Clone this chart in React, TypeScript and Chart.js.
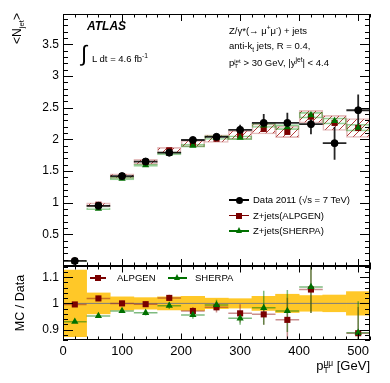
import React, { useEffect, useRef } from "react";
import { Chart, registerables } from "chart.js";
Chart.register(...registerables);

// ---------------- data ----------------
const binCenters = [20, 60, 100, 140, 180, 220, 260, 300, 340, 380, 420, 460, 500];
const binHalfWidth = 20;

const dataNjet = [0.08, 0.95, 1.42, 1.65, 1.79, 1.99, 2.04, 2.15, 2.26, 2.26, 2.24, 1.94, 2.46];
const dataErr = [0.01, 0.02, 0.025, 0.03, 0.035, 0.04, 0.05, 0.08, 0.14, 0.16, 0.16, 0.26, 0.25];

const alpgenNjet = [0.08, 0.968, 1.42, 1.645, 1.828, 1.932, 2.01, 2.068, 2.165, 2.118, 2.359, 2.26, 2.18];
const alpgenSyst = [0.005, 0.03, 0.035, 0.04, 0.045, 0.05, 0.06, 0.07, 0.08, 0.09, 0.1, 0.12, 0.15];

const sherpaNjet = [0.074, 0.904, 1.379, 1.591, 1.774, 1.902, 2.028, 2.027, 2.222, 2.194, 2.381, 2.29, 2.184];
const sherpaSyst = [0.004, 0.015, 0.02, 0.02, 0.02, 0.025, 0.03, 0.03, 0.035, 0.04, 0.045, 0.05, 0.055];

const ratioAlpgen = [0.996, 1.019, 1.0, 0.997, 1.021, 0.971, 0.985, 0.962, 0.958, 0.937, 1.053, null, 0.886];
const ratioAlpgenErr = [0.005, 0.01, 0.01, 0.01, 0.012, 0.015, 0.02, 0.035, 0.04, 0.085, 0.09, null, 0.1];
const ratioSherpa = [0.93, 0.952, 0.971, 0.964, 0.991, 0.956, 0.994, 0.943, 0.983, 0.971, 1.063, null, 0.888];
const ratioSherpaErr = [0.005, 0.008, 0.008, 0.01, 0.012, 0.015, 0.02, 0.025, 0.065, 0.08, 0.1, null, 0.12];
const dataBand = [0.127, 0.04, 0.025, 0.022, 0.025, 0.027, 0.02, 0.018, 0.027, 0.035, 0.03, 0.032, 0.045];

const topYTicks = [0.5, 1, 1.5, 2, 2.5, 3, 3.5];
const ratioYTicks = [0.9, 1, 1.1];
const xTicks = [0, 100, 200, 300, 400, 500];

// --------------- styling ---------------
const FONT = "'Liberation Sans', Arial, Helvetica, sans-serif";
const RED = "#7a0000";
const GREEN = "#007000";
const YELLOW = "rgb(255,200,40)";

function errorBarPoints(xs: number[], ys: (number | null)[], errs: (number | null)[], half: number, withH = true) {
  const pts: any[] = [];
  xs.forEach((x, i) => {
    const y = ys[i];
    const e = errs[i];
    if (y == null || e == null) return;
    pts.push({ x, y: y - e }, { x, y: y + e }, { x, y: null });
    if (withH) pts.push({ x: x - half, y }, { x: x + half, y }, { x, y: null });
  });
  return pts;
}

function makeHatch() {
  const c = document.createElement("canvas");
  const s = 7;
  c.width = s;
  c.height = s;
  const g = c.getContext("2d")!;
  g.strokeStyle = "rgba(170,40,40,0.9)";
  g.lineWidth = 1;
  g.beginPath();
  g.moveTo(0, s);
  g.lineTo(s, 0);
  g.moveTo(-1, 1);
  g.lineTo(1, -1);
  g.moveTo(s - 1, s + 1);
  g.lineTo(s + 1, s - 1);
  g.stroke();
  return g.createPattern(c, "repeat");
}

function framePlugin(cfg: {
  xMax: number; xMinor: number; xMajorEvery: number; xLen: [number, number];
  yMin: number; yMax: number; yMinor: number; yMajorEvery: number; yLen: [number, number];
}) {
  return {
    id: "frameTicks",
    afterDatasetsDraw(chart: any) {
      const { ctx, chartArea: a, scales } = chart;
      ctx.save();
      ctx.strokeStyle = "#000";
      ctx.lineWidth = 1;
      ctx.beginPath();
      for (let n = 0; n * cfg.xMinor <= cfg.xMax + 1e-9; n++) {
        const px = Math.round(scales.x.getPixelForValue(n * cfg.xMinor)) + 0.5;
        const len = n % cfg.xMajorEvery === 0 ? cfg.xLen[0] : cfg.xLen[1];
        ctx.moveTo(px, a.bottom);
        ctx.lineTo(px, a.bottom - len);
        ctx.moveTo(px, a.top);
        ctx.lineTo(px, a.top + len);
      }
      const k0 = Math.ceil(cfg.yMin / cfg.yMinor - 1e-9);
      const k1 = Math.floor(cfg.yMax / cfg.yMinor + 1e-9);
      for (let k = k0; k <= k1; k++) {
        const py = Math.round(scales.y.getPixelForValue(k * cfg.yMinor)) + 0.5;
        const len = k % cfg.yMajorEvery === 0 ? cfg.yLen[0] : cfg.yLen[1];
        ctx.moveTo(a.left, py);
        ctx.lineTo(a.left + len, py);
        ctx.moveTo(a.right, py);
        ctx.lineTo(a.right - len, py);
      }
      ctx.stroke();
      ctx.strokeRect(Math.round(a.left) + 0.5, Math.round(a.top) + 0.5, Math.round(a.width) - 1, Math.round(a.height) - 1);
      ctx.restore();
    },
  };
}

const txt = (style: React.CSSProperties): React.CSSProperties => ({
  position: "absolute",
  fontFamily: FONT,
  color: "#000",
  whiteSpace: "nowrap",
  lineHeight: 1,
  ...style,
});

function SubSup({ sub, sup }: { sub: string; sup: string }) {
  return (
    <span style={{ display: "inline-block", verticalAlign: "-0.4em", lineHeight: 0.9, fontSize: "0.65em", textAlign: "left" }}>
      <span style={{ display: "block" }}>{sup}</span>
      <span style={{ display: "block" }}>{sub}</span>
    </span>
  );
}

function Marker({ kind, color, cx, cy }: { kind: string; color: string; cx: number; cy: number }) {
  if (kind === "circle")
    return <div style={{ position: "absolute", left: cx - 3.5, top: cy - 3.5, width: 7, height: 7, borderRadius: "50%", background: color }} />;
  if (kind === "square")
    return <div style={{ position: "absolute", left: cx - 3, top: cy - 3, width: 6, height: 6, background: color }} />;
  return (
    <div style={{ position: "absolute", left: cx - 3.5, top: cy - 4, width: 0, height: 0, borderLeft: "3.5px solid transparent", borderRight: "3.5px solid transparent", borderBottom: `6.5px solid ${color}` }} />
  );
}

function LegendEntry({ x1, x2, y, kind, color, lineColor, label, tx, size }: any) {
  return (
    <>
      <div style={{ position: "absolute", left: x1, top: y - 0.75, width: x2 - x1, height: 1.5, background: lineColor }} />
      <Marker kind={kind} color={color} cx={(x1 + x2) / 2} cy={y} />
      <div style={txt({ left: tx, top: y - 0.5 * size, fontSize: size })}>{label}</div>
    </>
  );
}

const fmt = (v: any) => String(Number(v));

export default function App() {
  const topRef = useRef<HTMLCanvasElement>(null);
  const botRef = useRef<HTMLCanvasElement>(null);

  useEffect(() => {
    Chart.defaults.font.family = FONT;
    Chart.defaults.color = "#000";
    const hatch = makeHatch();

    const common: any = {
      responsive: false,
      animation: false,
      events: [],
      plugins: { legend: { display: false }, tooltip: { enabled: false } },
    };

    const top = new Chart(topRef.current!, {
      type: "bar",
      data: {
        datasets: [
          {
            type: "line",
            data: binCenters.map((x, i) => ({ x, y: dataNjet[i] })),
            showLine: false,
            pointStyle: "circle",
            pointRadius: 3.5,
            backgroundColor: "#000",
            borderColor: "#000",
            order: 0,
          } as any,
          {
            type: "line",
            data: binCenters.map((x, i) => ({ x, y: sherpaNjet[i] })),
            showLine: false,
            pointStyle: "triangle",
            pointRadius: 4.2,
            backgroundColor: GREEN,
            borderColor: GREEN,
            borderWidth: 0,
            order: 1,
          },
          {
            type: "line",
            data: binCenters.map((x, i) => ({ x, y: alpgenNjet[i] })),
            showLine: false,
            pointStyle: "rect",
            pointRadius: 4.3,
            backgroundColor: RED,
            borderColor: RED,
            borderWidth: 0,
            order: 2,
          },
          {
            type: "line",
            data: errorBarPoints(binCenters, dataNjet, dataErr, binHalfWidth),
            borderColor: "rgba(0,0,0,0.85)",
            borderWidth: 1.8,
            pointRadius: 0,
            spanGaps: false,
            tension: 0,
            order: 3,
          },
          {
            type: "bar",
            data: binCenters.map((x, i) => ({ x, y: [sherpaNjet[i] - sherpaSyst[i], sherpaNjet[i] + sherpaSyst[i]] })),
            backgroundColor: "rgba(0,150,0,0.04)",
            borderColor: "rgba(0,140,0,0.4)",
            borderWidth: 1,
            borderSkipped: false,
            grouped: false,
            barPercentage: 1,
            categoryPercentage: 1,
            order: 5,
          },
          {
            type: "bar",
            data: binCenters.map((x, i) => ({ x, y: [alpgenNjet[i] - alpgenSyst[i], alpgenNjet[i] + alpgenSyst[i]] })),
            backgroundColor: hatch as any,
            borderColor: "rgba(170,40,40,0.3)",
            borderWidth: 1,
            borderSkipped: false,
            grouped: false,
            barPercentage: 1,
            categoryPercentage: 1,
            order: 6,
          },
        ],
      },
      options: {
        ...common,
        layout: { padding: { top: 14, right: 20, bottom: 117, left: 0 } },
        scales: {
          x: { type: "linear", min: 0, max: 520, display: false, offset: false },
          y: {
            type: "linear",
            min: 0,
            max: 3.98,
            grid: { display: false, drawTicks: false },
            border: { display: false },
            ticks: { font: { size: 12 }, padding: 4, color: "#000", callback: fmt },
            afterBuildTicks: (s: any) => {
              s.ticks = topYTicks.map((v) => ({ value: v }));
            },
            afterFit: (s: any) => {
              s.width = 63;
            },
          },
        },
      },
      plugins: [framePlugin({ xMax: 520, xMinor: 20, xMajorEvery: 5, xLen: [7, 3.5], yMin: 0, yMax: 3.98, yMinor: 0.1, yMajorEvery: 5, yLen: [10, 5] })],
    });

    const bot = new Chart(botRef.current!, {
      type: "bar",
      data: {
        datasets: [
          {
            type: "line",
            data: binCenters.map((x, i) => ({ x, y: ratioSherpa[i] })),
            showLine: false,
            pointStyle: "triangle",
            pointRadius: 4.2,
            backgroundColor: GREEN,
            borderColor: GREEN,
            borderWidth: 0,
            order: 0,
          } as any,
          {
            type: "line",
            data: binCenters.map((x, i) => ({ x, y: ratioAlpgen[i] })),
            showLine: false,
            pointStyle: "rect",
            pointRadius: 4.3,
            backgroundColor: RED,
            borderColor: RED,
            borderWidth: 0,
            order: 1,
          },
          {
            type: "line",
            data: errorBarPoints(binCenters, ratioSherpa, ratioSherpaErr, binHalfWidth),
            borderColor: "rgba(0,120,0,0.5)",
            borderWidth: 1.5,
            pointRadius: 0,
            spanGaps: false,
            order: 2,
          },
          {
            type: "line",
            data: errorBarPoints(binCenters, ratioAlpgen, ratioAlpgenErr, binHalfWidth),
            borderColor: "rgba(150,30,30,0.5)",
            borderWidth: 1.5,
            pointRadius: 0,
            spanGaps: false,
            order: 3,
          },
          {
            type: "line",
            data: [{ x: 0, y: 1 }, { x: 520, y: 1 }],
            borderColor: "rgb(125,125,125)",
            borderWidth: 1,
            pointRadius: 0,
            order: 4,
          },
          {
            type: "bar",
            data: binCenters.map((x, i) => ({ x, y: [1 - dataBand[i], 1 + dataBand[i]] })),
            backgroundColor: YELLOW,
            borderWidth: 0,
            grouped: false,
            barPercentage: 1,
            categoryPercentage: 1,
            order: 6,
          },
        ],
      },
      options: {
        ...common,
        layout: { padding: { top: 266, right: 20, bottom: 0, left: 0 } },
        scales: {
          x: {
            type: "linear",
            min: 0,
            max: 520,
            offset: false,
            grid: { display: false, drawTicks: false },
            border: { display: false },
            ticks: { font: { size: 13 }, padding: 4, color: "#000", autoSkip: false, maxRotation: 0, callback: fmt },
            afterBuildTicks: (s: any) => {
              s.ticks = xTicks.map((v) => ({ value: v }));
            },
            afterFit: (s: any) => {
              s.height = 43;
            },
          },
          y: {
            type: "linear",
            min: 0.86,
            max: 1.143,
            grid: { display: false, drawTicks: false },
            border: { display: false },
            ticks: { font: { size: 12 }, padding: 4, color: "#000", callback: fmt },
            afterBuildTicks: (s: any) => {
              s.ticks = ratioYTicks.map((v) => ({ value: v }));
            },
            afterFit: (s: any) => {
              s.width = 63;
            },
          },
        },
      },
      plugins: [framePlugin({ xMax: 520, xMinor: 20, xMajorEvery: 5, xLen: [6.5, 3.5], yMin: 0.86, yMax: 1.143, yMinor: 0.02, yMajorEvery: 5, yLen: [10, 5] })],
    });

    return () => {
      top.destroy();
      bot.destroy();
    };
  }, []);

  const ann = 9.5;
  return (
    <div style={{ position: "absolute", left: 0, top: 0, width: 390, height: 383, background: "#fff", overflow: "hidden" }}>
      <canvas ref={topRef} width={390} height={383} style={{ position: "absolute", left: 0, top: 0 }} />
      <canvas ref={botRef} width={390} height={383} style={{ position: "absolute", left: 0, top: 0 }} />

      {/* y titles */}
      <div style={txt({ left: 10, top: 113, width: 100, textAlign: "right", fontSize: 12, lineHeight: "14px", transformOrigin: "0 0", transform: "rotate(-90deg)" })}>
        {"<N"}
        <sub style={{ fontSize: "0.65em" }}>jet</sub>
        {">"}
      </div>
      <div style={txt({ left: 13, top: 353, width: 100, textAlign: "center", fontSize: 12.5, lineHeight: "14px", transformOrigin: "0 0", transform: "rotate(-90deg)" })}>
        MC / Data
      </div>

      {/* x title */}
      <div style={txt({ right: 20, top: 359, fontSize: 13 })}>
        p<SubSup sub="T" sup="μμ" /> [GeV]
      </div>

      {/* ATLAS label */}
      <div style={txt({ left: 87, top: 20, fontSize: 12, fontWeight: "bold", fontStyle: "italic" })}>ATLAS</div>
      <div style={txt({ left: 81, top: 43, fontSize: 22, fontFamily: "'DejaVu Sans', sans-serif", fontWeight: 200 })}>∫</div>
      <div style={txt({ left: 92, top: 53, fontSize: ann })}>
        L dt = 4.6 fb<sup style={{ fontSize: "0.7em" }}>-1</sup>
      </div>

      {/* process annotations */}
      <div style={txt({ left: 229, top: 25, fontSize: ann })}>
        Z/γ*(→ μ<sup style={{ fontSize: "0.7em" }}>+</sup>μ<sup style={{ fontSize: "0.7em" }}>-</sup>) + jets
      </div>
      <div style={txt({ left: 229, top: 40.5, fontSize: ann })}>
        anti-k<sub style={{ fontSize: "0.7em" }}>t</sub> jets, R = 0.4,
      </div>
      <div style={txt({ left: 229, top: 56.5, fontSize: ann })}>
        p<SubSup sub="T" sup="jet" /> &gt; 30 GeV, |y<sup style={{ fontSize: "0.7em" }}>jet</sup>| &lt; 4.4
      </div>

      {/* top legend */}
      <LegendEntry x1={229} x2={249} y={200} kind="circle" color="#000" lineColor="#000" label="Data 2011 (√s = 7 TeV)" tx={253} size={ann} />
      <LegendEntry x1={229} x2={249} y={215.5} kind="square" color={RED} lineColor={RED} label="Z+jets(ALPGEN)" tx={253} size={ann} />
      <LegendEntry x1={229} x2={249} y={231} kind="triangle" color={GREEN} lineColor={GREEN} label="Z+jets(SHERPA)" tx={253} size={ann} />

      {/* bottom legend */}
      <LegendEntry x1={90} x2={106} y={278} kind="square" color={RED} lineColor={RED} label="ALPGEN" tx={117} size={ann} />
      <LegendEntry x1={168} x2={187} y={278} kind="triangle" color={GREEN} lineColor={GREEN} label="SHERPA" tx={195} size={ann} />
    </div>
  );
}
